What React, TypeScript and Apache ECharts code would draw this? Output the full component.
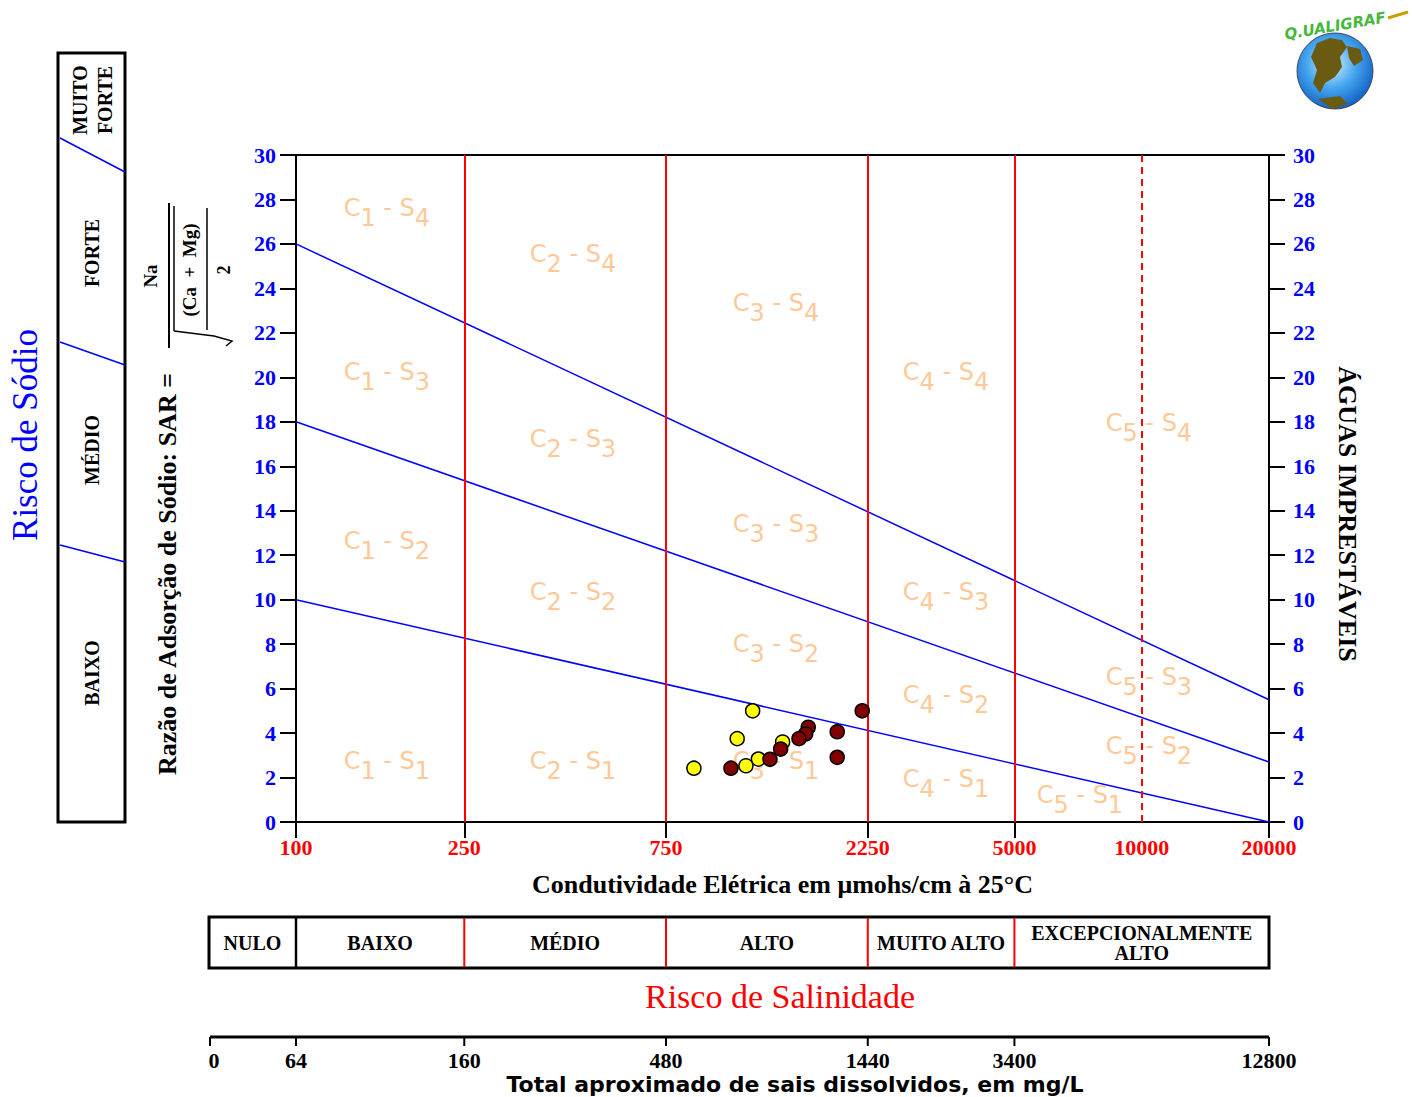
import React, { useEffect, useRef } from "react";
import * as echarts from "echarts";

// ---------- data ----------
const ecTickValues = [100, 250, 750, 2250, 5000, 20000];
const ecLabelValues = [100, 250, 750, 2250, 5000, 10000, 20000];
const salinityBreaks = [250, 750, 2250, 5000];
const dashedBreak = 10000;
const ecMin = 100;
const ecMax = 20000;

// SAR class boundaries (straight lines on log EC axis)
const boundaryS1S2 = [[100, 10], [20000, 0]];
const boundaryS2S3 = [[100, 18], [20000, 2.7]];
const boundaryS3S4 = [[100, 26], [20000, 5.5]];

// samples
const yellowEC = [1202, 1105, 1415, 1240, 1159, 873];
const yellowSAR = [5.0, 3.75, 3.6, 2.83, 2.53, 2.42];
const redEC = [2183, 1627, 1604, 1547, 1905, 1400, 1321, 1068, 1905];
const redSAR = [5.0, 4.26, 3.96, 3.75, 4.06, 3.28, 2.82, 2.42, 2.91];

// zone annotations: [EC, SAR, C class, S class]
const zoneLabels = [
  [164, 27.4, 1, 4], [452, 25.3, 2, 4], [1365, 23.1, 3, 4], [3444, 20.0, 4, 4], [10400, 17.7, 5, 4],
  [164, 20.0, 1, 3], [452, 17.0, 2, 3], [1365, 13.2, 3, 3], [3444, 10.1, 4, 3], [10400, 6.3, 5, 3],
  [164, 12.4, 1, 2], [452, 10.1, 2, 2], [1365, 7.8, 3, 2], [3444, 5.5, 4, 2], [10400, 3.2, 5, 2],
  [164, 2.5, 1, 1], [452, 2.5, 2, 1], [1365, 2.5, 3, 1], [3444, 1.7, 4, 1], [7143, 1.0, 5, 1],
];

const salinityClasses = ["NULO", "BAIXO", "MÉDIO", "ALTO", "MUITO ALTO", "EXCEPCIONALMENTE\nALTO"];
const tdsLabels = ["0", "64", "160", "480", "1440", "3400", "12800"];
const sodiumClasses = ["MUITO\nFORTE", "FORTE", "MÉDIO", "BAIXO"];

const SERIF = '"Liberation Serif", "DejaVu Serif", serif';
const SANS = '"DejaVu Sans", sans-serif';
const ORANGE = "#FFB97A";
const BLUE = "#0000FF";
const RED = "#FF0000";

function txt(x: number, y: number, text: string, size: number, opts: any = {}) {
  return {
    type: "text",
    x,
    y,
    rotation: opts.rotation || 0,
    silent: true,
    style: {
      text,
      fill: opts.color || "#000",
      fontSize: size,
      fontFamily: opts.family || SERIF,
      fontWeight: opts.weight || "bold",
      fontStyle: opts.style || "normal",
      align: opts.align || "center",
      verticalAlign: "middle",
      lineHeight: opts.lineHeight,
    },
  };
}
function ln(x1: number, y1: number, x2: number, y2: number, color: string, w: number) {
  return { type: "line", silent: true, shape: { x1, y1, x2, y2 }, style: { stroke: color, lineWidth: w } };
}

export default function App() {
  const ref = useRef<HTMLDivElement>(null);

  useEffect(() => {
    if (!ref.current) return;
    const chart = echarts.init(ref.current, null, { renderer: "svg" });

    const log = (v: number) => Math.log10(v);
    const axisLabelStyle = { fontFamily: SERIF, fontWeight: "bold", fontSize: 22 };

    const option: any = {
      animation: false,
      backgroundColor: "#fff",
      grid: {
        left: 296,
        right: 143,
        top: 155,
        bottom: 275,
        show: true,
        borderColor: "#000",
        borderWidth: 2,
        backgroundColor: "transparent",
      },
      xAxis: [
        {
          type: "log",
          logBase: 10,
          min: ecMin,
          max: ecMax,
          position: "bottom",
          axisLine: { show: true, lineStyle: { color: "#000", width: 2 } },
          axisTick: { show: false },
          axisLabel: { show: false },
          splitLine: { show: false },
          minorTick: { show: false },
        },
        {
          type: "value",
          min: log(ecMin),
          max: log(ecMax),
          position: "bottom",
          axisLine: { show: false },
          axisTick: {
            show: true,
            length: 16,
            customValues: ecTickValues.map(log),
            lineStyle: { color: "#000", width: 2 },
          },
          axisLabel: {
            show: true,
            customValues: ecLabelValues.map(log),
            formatter: (v: number) => String(Math.round(Math.pow(10, v))),
            color: RED,
            margin: 14,
            ...axisLabelStyle,
          },
          splitLine: { show: false },
          name: "Condutividade Elétrica em μmohs/cm à 25°C",
          nameLocation: "middle",
          nameGap: 49,
          nameTextStyle: { fontFamily: SERIF, fontWeight: "bold", fontSize: 26, color: "#000" },
        },
      ],
      yAxis: [
        {
          type: "value",
          min: 0,
          max: 30,
          interval: 2,
          position: "left",
          axisLine: { show: true, lineStyle: { color: "#000", width: 2 } },
          axisTick: { show: true, length: 16, lineStyle: { color: "#000", width: 2 } },
          axisLabel: { color: BLUE, margin: 20, ...axisLabelStyle },
          splitLine: { show: false },
        },
        {
          type: "value",
          min: 0,
          max: 30,
          interval: 2,
          position: "right",
          axisLine: { show: true, lineStyle: { color: "#000", width: 2 } },
          axisTick: { show: true, length: 16, lineStyle: { color: "#000", width: 2 } },
          axisLabel: { color: BLUE, margin: 24, ...axisLabelStyle },
          splitLine: { show: false },
        },
      ],
      series: [
        {
          type: "scatter",
          name: "zones",
          xAxisIndex: 0,
          yAxisIndex: 0,
          symbolSize: 0,
          silent: true,
          z: 1,
          data: zoneLabels.map((z) => ({ value: z })),
          label: {
            show: true,
            position: "inside",
            offset: [0, 5],
            formatter: (p: any) => `{n|C}{s|${p.value[2]}}{d| - }{n|S}{s|${p.value[3]}}`,
            rich: {
              n: { fontFamily: SANS, fontSize: 24, color: ORANGE, lineHeight: 24, verticalAlign: "top" },
              d: { fontFamily: SANS, fontSize: 24, color: ORANGE, lineHeight: 24, verticalAlign: "top" },
              s: { fontFamily: SANS, fontSize: 24, color: ORANGE, lineHeight: 44 },
            },
          },
        },
        ...[boundaryS1S2, boundaryS2S3, boundaryS3S4].map((b, i) => ({
          type: "line",
          xAxisIndex: 0,
          yAxisIndex: 0,
          data: b,
          symbol: "none",
          silent: true,
          z: 3,
          lineStyle: { color: BLUE, width: 1.5 },
          markLine:
            i === 0
              ? {
                  silent: true,
                  symbol: "none",
                  label: { show: false },
                  lineStyle: { color: RED, width: 2, type: "solid" },
                  data: [
                    ...salinityBreaks.map((v) => ({ xAxis: v })),
                    { xAxis: dashedBreak, lineStyle: { type: [7, 5], color: RED, width: 2 } },
                  ],
                }
              : undefined,
        })),
        {
          type: "scatter",
          xAxisIndex: 0,
          yAxisIndex: 0,
          symbolSize: 14,
          z: 5,
          itemStyle: { color: "#FFFF00", borderColor: "#000", borderWidth: 1.5, opacity: 1 },
          data: yellowEC.map((x, i) => [x, yellowSAR[i]]),
        },
        {
          type: "scatter",
          xAxisIndex: 0,
          yAxisIndex: 0,
          symbolSize: 14,
          z: 6,
          itemStyle: { color: "#800000", borderColor: "#000", borderWidth: 1.5, opacity: 1 },
          data: redEC.map((x, i) => [x, redSAR[i]]),
        },
      ],
    };
    chart.setOption(option);

    const px = (v: number) => chart.convertToPixel({ xAxisIndex: 0 }, v) as number;
    const tableLeft = 209;
    const tableRight = px(ecMax);
    const edges = [tableLeft, px(ecMin), ...salinityBreaks.map(px), tableRight];
    const g: any[] = [];

    // ---- sodium risk box (left) ----
    g.push({
      type: "rect",
      silent: true,
      shape: { x: 58, y: 53, width: 67, height: 769 },
      style: { fill: "none", stroke: "#000", lineWidth: 3 },
    });
    g.push(ln(60, 138, 125, 172, BLUE, 1.5));
    g.push(ln(60, 342, 125, 365, BLUE, 1.5));
    g.push(ln(60, 545, 125, 562, BLUE, 1.5));
    const sodiumY = [100, 253, 450, 673];
    sodiumClasses.forEach((s, i) =>
      g.push(txt(92, sodiumY[i], s, 20, { rotation: Math.PI / 2, lineHeight: 25 }))
    );
    g.push(txt(25, 435, "Risco de Sódio", 35, { rotation: Math.PI / 2, color: BLUE, weight: "normal" }));

    // ---- SAR axis title and formula ----
    g.push(txt(167, 574, "Razão de Adsorção de Sódio: SAR =", 26, { rotation: Math.PI / 2 }));
    g.push(txt(150, 276, "Na", 19, { rotation: Math.PI / 2 }));
    g.push(ln(169, 203, 169, 348, "#000", 2));
    g.push(ln(174, 206, 174, 331, "#000", 1.5));
    g.push({
      type: "polyline",
      silent: true,
      shape: { points: [[174, 331], [214, 336], [232, 341], [226, 346]] },
      style: { stroke: "#000", lineWidth: 1.5, fill: "none" },
    });
    g.push(txt(189, 270, "(Ca  +  Mg)", 19, { rotation: Math.PI / 2 }));
    g.push(ln(207, 208, 207, 330, "#000", 1.5));
    g.push(txt(224, 270, "2", 18, { rotation: Math.PI / 2 }));

    // ---- right label ----
    g.push(txt(1347, 514, "ÁGUAS IMPRESTÁVEIS", 26, { rotation: -Math.PI / 2 }));

    // ---- salinity table ----
    g.push({
      type: "rect",
      silent: true,
      shape: { x: tableLeft, y: 917, width: tableRight - tableLeft, height: 51 },
      style: { fill: "none", stroke: "#000", lineWidth: 3 },
    });
    g.push(ln(edges[1], 917, edges[1], 968, "#000", 2.5));
    salinityBreaks.forEach((v) => g.push(ln(px(v), 918, px(v), 967, RED, 2)));
    salinityClasses.forEach((s, i) => {
      const cx = (edges[i] + edges[i + 1]) / 2;
      g.push(txt(cx, 943, s, 20, { lineHeight: 20 }));
    });
    g.push(txt(780, 996, "Risco de Salinidade", 34, { color: RED, weight: "normal" }));

    // ---- TDS scale ----
    const tdsX = [tableLeft + 1, ...ecTickValues.map(px)];
    g.push(ln(tdsX[0], 1037, tdsX[tdsX.length - 1], 1037, "#000", 3));
    tdsX.forEach((x, i) => {
      g.push(ln(x, 1037, x, 1046, "#000", 2));
      g.push(txt(i === 0 ? x + 4 : x, 1060, tdsLabels[i], 22));
    });
    g.push(txt(795, 1084, "Total aproximado de sais dissolvidos, em mg/L", 22, { family: SANS, weight: "bold" }));

    // ---- logo ----
    g.push({
      type: "circle",
      silent: true,
      shape: { cx: 1335, cy: 71, r: 38 },
      style: {
        fill: new echarts.graphic.RadialGradient(0.45, 0.4, 0.65, [
          { offset: 0, color: "#d8f2ff" },
          { offset: 0.5, color: "#46a6f0" },
          { offset: 1, color: "#0a58c0" },
        ]),
        stroke: "#333",
        lineWidth: 0.8,
      },
    });
    g.push({
      type: "polygon",
      silent: true,
      shape: {
        points: [[1317, 43], [1330, 38], [1342, 40], [1347, 47], [1340, 57], [1342, 67], [1335, 77], [1325, 83],
          [1320, 93], [1313, 83], [1317, 70], [1311, 57]],
      },
      style: { fill: "#6b5a12" },
    });
    g.push({
      type: "polygon",
      silent: true,
      shape: { points: [[1347, 46], [1360, 49], [1363, 60], [1354, 66], [1349, 58]] },
      style: { fill: "#6b5a12" },
    });
    g.push({
      type: "polygon",
      silent: true,
      shape: { points: [[1318, 99], [1340, 96], [1348, 104], [1332, 109]] },
      style: { fill: "#6b5a12" },
    });
    g.push(txt(1335, 26, "Q.UALIGRAF", 15, { rotation: 0.17, color: "#44b83a", style: "italic", family: SANS }));
    g.push(ln(1388, 18, 1408, 12, "#c8a000", 3));

    chart.setOption({ graphic: g });

    return () => chart.dispose();
  }, []);

  return (
    <div
      ref={ref}
      style={{ position: "fixed", left: 0, top: 0, width: 1412, height: 1097, background: "#fff" }}
    />
  );
}
